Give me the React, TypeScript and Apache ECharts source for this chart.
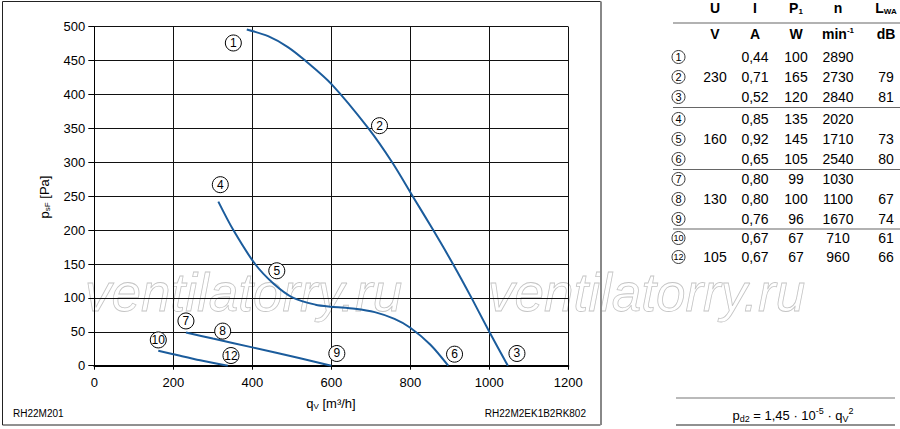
import React, { useEffect, useRef } from "react";
import * as echarts from "echarts";

// ---------- data ----------
const X_MIN = 0;
const X_MAX = 1200;
const X_STEP = 200;
const Y_MIN = 0;
const Y_MAX = 500;
const Y_STEP = 50;

const CURVE_230: [number, number][] = [
  [386, 496], [440, 486], [490, 470], [534, 450], [601, 415], [694, 350],
  [754, 300], [806, 250], [858, 200], [908, 150], [955, 100], [1000, 50], [1047, 0],
];
const CURVE_160: [number, number][] = [
  [314, 242], [352, 200], [407, 150], [454, 121], [504, 100], [560, 90], [600, 87],
  [660, 84], [710, 79], [760, 69], [800, 56], [851, 31], [896, 0],
];
const CURVE_130: [number, number][] = [
  [232, 49], [300, 40], [400, 27], [521, 11], [600, 0],
];
const CURVE_105: [number, number][] = [
  [162, 22], [200, 17], [268, 8], [338, 0],
];

const MARKER_IDS = ["1", "2", "3", "4", "5", "6", "7", "8", "9", "10", "12"];
const MARKER_Q = [352, 722, 1070, 319, 462, 912, 232, 325, 614, 162, 346];
const MARKER_P = [476, 354, 18, 267, 140, 17, 66, 51, 18, 38, 15];

// table
const ROW_IDS = ["1", "2", "3", "4", "5", "6", "7", "8", "9", "10", "12"];
const COL_U = ["", "230", "", "", "160", "", "", "130", "", "", "105"];
const COL_I = ["0,44", "0,71", "0,52", "0,85", "0,92", "0,65", "0,80", "0,80", "0,76", "0,67", "0,67"];
const COL_P1 = ["100", "165", "120", "135", "145", "105", "99", "100", "96", "67", "67"];
const COL_N = ["2890", "2730", "2840", "2020", "1710", "2540", "1030", "1100", "1670", "710", "960"];
const COL_LWA = ["", "79", "81", "", "73", "80", "", "67", "74", "61", "66"];

// ---------- layout ----------
const FONT = "'Liberation Sans', Arial, Helvetica, sans-serif";
const BLUE = "#1b5c9c";
const ROW_Y = [57, 77, 97, 119, 139, 159, 179, 199, 219, 238, 257];
const SEP_Y = [23, 107.5, 169.5, 229];
const COL_X = { id: 678.5, U: 715, I: 755, P: 796, N: 838, L: 886 };
const TFS = 14;

function buildTable(): any[] {
  const els: any[] = [];
  const txt = (x: number, y: number, text: string, bold = false, rich?: any) => ({
    type: "text",
    x,
    y,
    style: {
      text,
      fill: "#000",
      fontFamily: FONT,
      fontSize: TFS,
      fontWeight: bold ? "bold" : "normal",
      align: "center",
      verticalAlign: "middle",
      rich,
    },
  });
  const hy = 8;
  const uy = 34;
  const big = { fontSize: TFS, fontWeight: "bold", fontFamily: FONT, verticalAlign: "middle" };
  const sub = { fontSize: 8, fontWeight: "bold", fontFamily: FONT, padding: [7, 0, 0, 0], verticalAlign: "middle" };
  const sup = { fontSize: 8, fontWeight: "bold", fontFamily: FONT, padding: [0, 0, 7, 0], verticalAlign: "middle" };
  els.push(txt(COL_X.U, hy, "U", true));
  els.push(txt(COL_X.I, hy, "I", true));
  els.push(txt(COL_X.P, hy, "{b|P}{s|1}", true, { b: big, s: sub }));
  els.push(txt(COL_X.N, hy, "n", true));
  els.push(txt(COL_X.L, hy, "{b|L}{s|WA}", true, { b: big, s: sub }));
  els.push(txt(COL_X.U, uy, "V", true));
  els.push(txt(COL_X.I, uy, "A", true));
  els.push(txt(COL_X.P, uy, "W", true));
  els.push(txt(COL_X.N, uy, "{b|min}{s|-1}", true, { b: big, s: sup }));
  els.push(txt(COL_X.L, uy, "dB", true));

  SEP_Y.forEach((y) => {
    els.push({
      type: "line",
      shape: { x1: 673, y1: y, x2: 900, y2: y },
      style: { stroke: "#666", lineWidth: 1.2 },
    });
  });

  ROW_IDS.forEach((id, i) => {
    const y = ROW_Y[i];
    els.push({
      type: "circle",
      shape: { cx: COL_X.id, cy: y, r: 6.5 },
      style: { fill: "#fff", stroke: "#222", lineWidth: 0.9 },
    });
    els.push({
      type: "text",
      x: COL_X.id,
      y: y,
      style: {
        text: id,
        fill: "#000",
        fontFamily: FONT,
        fontSize: id.length > 1 ? 9 : 11,
        align: "center",
        verticalAlign: "middle",
      },
    });
    els.push(txt(COL_X.U, y, COL_U[i]));
    els.push(txt(COL_X.I, y, COL_I[i]));
    els.push(txt(COL_X.P, y, COL_P1[i]));
    els.push(txt(COL_X.N, y, COL_N[i]));
    els.push(txt(COL_X.L, y, COL_LWA[i]));
  });

  // formula box
  els.push({ type: "line", shape: { x1: 676, y1: 398, x2: 895, y2: 398 }, style: { stroke: "#777", lineWidth: 1.2 } });
  els.push({ type: "line", shape: { x1: 676, y1: 425, x2: 895, y2: 425 }, style: { stroke: "#222", lineWidth: 1.2 } });
  els.push({
    type: "text",
    x: 793,
    y: 415,
    style: {
      text: "{a|p}{s|d2}{a| = 1,45 · 10}{u|-5}{a| · q}{s|V}{u|2}",
      align: "center",
      verticalAlign: "middle",
      fill: "#000",
      rich: {
        a: { fontSize: 13, fontFamily: FONT, verticalAlign: "middle" },
        s: { fontSize: 9, fontFamily: FONT, padding: [7, 0, 0, 0], verticalAlign: "middle" },
        u: { fontSize: 9, fontFamily: FONT, padding: [0, 0, 8, 0], verticalAlign: "middle" },
      },
    },
  });
  return els;
}

function buildGraphic(): any[] {
  const els: any[] = [];
  // frame
  els.push({
    type: "rect",
    shape: { x: 2.5, y: 1.5, width: 598, height: 423.5 },
    style: { fill: "none", stroke: "#222", lineWidth: 1 },
    z: 1,
  });
  els.push({
    type: "line",
    shape: { x1: 601, y1: 1.5, x2: 601, y2: 425 },
    style: { stroke: "#888", lineWidth: 2 },
    z: 1,
  });
  // watermarks
  [85, 488].forEach((x) => {
    els.push({
      type: "text",
      x,
      y: 292,
      z: 0,
      style: {
        text: "ventilatorry.ru",
        fontFamily: FONT,
        fontSize: 53,
        fontStyle: "italic",
        fill: "rgba(255,255,255,0)",
        stroke: "#c4c4c4",
        lineWidth: 0.8,
        align: "left",
        verticalAlign: "middle",
      },
    });
  });
  // axis names
  els.push({
    type: "text",
    x: 44,
    y: 197,
    rotation: Math.PI / 2,
    style: {
      text: "{a|p}{s|sF}{a| [Pa]}",
      align: "center",
      verticalAlign: "middle",
      fill: "#000",
      rich: {
        a: { fontSize: 13, fontFamily: FONT, verticalAlign: "middle" },
        s: { fontSize: 8, fontFamily: FONT, padding: [7, 0, 0, 0], verticalAlign: "middle" },
      },
    },
  });
  els.push({
    type: "text",
    x: 331,
    y: 403,
    style: {
      text: "{a|q}{s|V}{a| [m³/h]}",
      align: "center",
      verticalAlign: "middle",
      fill: "#000",
      rich: {
        a: { fontSize: 13, fontFamily: FONT, verticalAlign: "middle" },
        s: { fontSize: 8, fontFamily: FONT, padding: [7, 0, 0, 0], verticalAlign: "middle" },
      },
    },
  });
  els.push({
    type: "text",
    x: 13,
    y: 413,
    style: { text: "RH22M201", fontFamily: FONT, fontSize: 10, fill: "#000", align: "left", verticalAlign: "middle" },
  });
  els.push({
    type: "text",
    x: 586,
    y: 413,
    style: { text: "RH22M2EK1B2RK802", fontFamily: FONT, fontSize: 10, fill: "#000", align: "right", verticalAlign: "middle" },
  });
  return els.concat(buildTable());
}

function curveSeries(data: [number, number][]) {
  return {
    type: "line",
    data,
    smooth: 0.3,
    showSymbol: false,
    symbol: "none",
    lineStyle: { color: BLUE, width: 2 },
    z: 3,
    silent: true,
  };
}

export default function App() {
  const ref = useRef<HTMLDivElement>(null);
  useEffect(() => {
    if (!ref.current) return;
    const chart = echarts.init(ref.current, null, { renderer: "svg" });
    const markerData = MARKER_IDS.map((id, i) => ({ value: [MARKER_Q[i], MARKER_P[i]], name: id }));
    chart.setOption({
      animation: false,
      backgroundColor: "#fff",
      textStyle: { fontFamily: FONT },
      grid: { left: 94.3, right: 331.7, top: 26.7, bottom: 63.3, containLabel: false },
      xAxis: {
        type: "value",
        min: X_MIN,
        max: X_MAX,
        interval: X_STEP,
        axisLine: { show: true, onZero: false, lineStyle: { color: "#000", width: 2 } },
        axisTick: { show: true, length: 4, lineStyle: { color: "#000", width: 1 } },
        axisLabel: { color: "#000", fontSize: 13, fontFamily: FONT, margin: 10, formatter: (v: number) => String(v) },
        splitLine: { show: true, lineStyle: { color: "#111", width: 1 } },
      },
      yAxis: {
        type: "value",
        min: Y_MIN,
        max: Y_MAX,
        interval: Y_STEP,
        axisLine: { show: true, lineStyle: { color: "#000", width: 1 } },
        axisTick: { show: true, length: 6, lineStyle: { color: "#000", width: 1 } },
        axisLabel: { color: "#000", fontSize: 13, fontFamily: FONT, margin: 9, formatter: (v: number) => String(v) },
        splitLine: { show: true, lineStyle: { color: "#111", width: 1 } },
      },
      graphic: buildGraphic(),
      series: [
        curveSeries(CURVE_230),
        curveSeries(CURVE_160),
        curveSeries(CURVE_130),
        curveSeries(CURVE_105),
        {
          type: "scatter",
          data: markerData,
          symbol: "circle",
          symbolSize: 16,
          z: 4,
          itemStyle: { color: "#fff", borderColor: "#000", borderWidth: 1, opacity: 1 },
          label: {
            show: true,
            position: "inside",
            formatter: (p: any) => p.name,
            color: "#000",
            fontFamily: FONT,
            fontSize: 12,
          },
          silent: true,
        },
      ],
    });
    return () => chart.dispose();
  }, []);
  return <div ref={ref} style={{ position: "absolute", left: 0, top: 0, width: 900, height: 429 }} />;
}
